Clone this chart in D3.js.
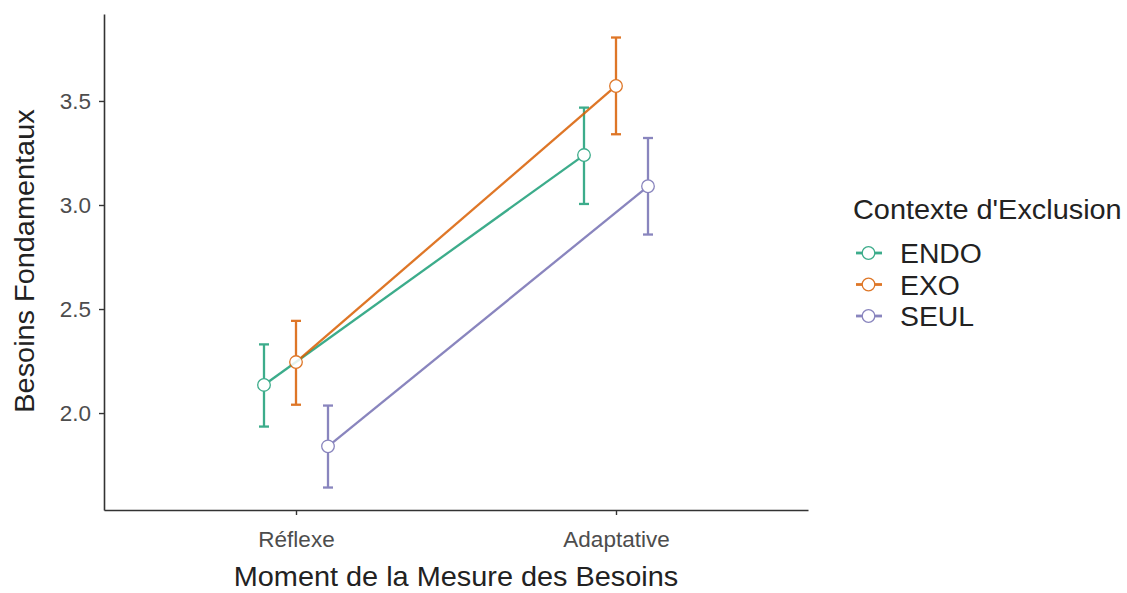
<!DOCTYPE html>
<html>
<head>
<meta charset="utf-8">
<script src="https://cdn.jsdelivr.net/npm/d3@7"></script>
<style>
  body { margin: 0; background: #fff; }
  text { font-family: "Liberation Sans", Arial, sans-serif; }
</style>
</head>
<body>
<div id="plot"></div>
<script>
// moments (x categories) and groups
var moments = ["Réflexe", "Adaptative"];
var groups = ["ENDO", "EXO", "SEUL"];
var colors = ["#1B9E77", "#D95F02", "#7570B3"];

// means per group, in the order of moments
var meanENDO = [2.135, 3.24],
    meanEXO  = [2.245, 3.572],
    meanSEUL = [1.84, 3.09];
// error bar limits
var lowENDO = [1.935, 3.005], highENDO = [2.33, 3.468],
    lowEXO  = [2.04, 3.34],   highEXO  = [2.443, 3.805],
    lowSEUL = [1.642, 2.858], highSEUL = [2.036, 3.322];

var yTicks = [2.0, 2.5, 3.0, 3.5];

var means = [meanENDO, meanEXO, meanSEUL],
    lows = [lowENDO, lowEXO, lowSEUL],
    highs = [highENDO, highEXO, highSEUL];

var width = 1127, height = 593;
var margin = {top: 14, right: 319, bottom: 83, left: 104};
// the reference text is a little wider than its height suggests
var stretch = 1.05;

var svg = d3.select("#plot").append("svg")
    .attr("width", width)
    .attr("height", height);

// discrete x axis with ggplot-like expansion (0.6 each side)
var x = d3.scaleLinear()
    .domain([0.4, moments.length + 0.6])
    .range([margin.left, width - margin.right]);
var dodge = d3.scaleOrdinal().domain(groups).range([-0.1, 0, 0.1]);

var y = d3.scaleLinear()
    .domain([1.534, 3.918])
    .range([height - margin.bottom, margin.top]);

var axisCol = "#333333";

// axes
var gx = svg.append("g")
    .attr("transform", "translate(0," + (height - margin.bottom) + ")")
    .call(d3.axisBottom(x).tickValues([1, 2]).tickFormat(function(d) { return moments[d - 1]; })
          .tickSize(5).tickSizeOuter(0));
var gy = svg.append("g")
    .attr("transform", "translate(" + margin.left + ",0)")
    .call(d3.axisLeft(y).tickValues(yTicks).tickFormat(d3.format(".1f"))
          .tickSize(5).tickSizeOuter(0).tickPadding(8));

[gx, gy].forEach(function(g) {
  g.select(".domain").attr("stroke", axisCol).attr("stroke-width", 1.6);
  g.selectAll(".tick line").attr("stroke", axisCol).attr("stroke-width", 1.4);
  g.selectAll(".tick text").attr("fill", "#4d4d4d").style("font-size", "22.5px");
});
gx.selectAll(".tick text").attr("y", 21);

// stretched text helper
function label(parent, tx, ty, rot, size, anchor, str) {
  return parent.append("text")
      .attr("transform", "translate(" + tx + "," + ty + ") rotate(" + rot + ") scale(" + stretch + ",1)")
      .attr("text-anchor", anchor)
      .attr("fill", "#222")
      .style("font-size", size + "px")
      .text(str);
}

// axis titles
label(svg, x(1.5), 586, 0, 27.5, "middle", "Moment de la Mesure des Besoins");
label(svg, 34, 261, -90, 27.5, "middle", "Besoins Fondamentaux");

var plot = svg.append("g");
var lineW = 2.3, op = 0.85;

groups.forEach(function(gname, gi) {
  var col = colors[gi];
  var pts = moments.map(function(m, mi) {
    return {x: mi + 1 + dodge(gname), m: means[gi][mi], lo: lows[gi][mi], hi: highs[gi][mi]};
  });
  var g = plot.append("g").attr("opacity", op);
  g.append("path")
      .datum(pts)
      .attr("fill", "none")
      .attr("stroke", col)
      .attr("stroke-width", lineW)
      .attr("d", d3.line().x(function(d) { return x(d.x); }).y(function(d) { return y(d.m); }));
  pts.forEach(function(d) {
    var cx = x(d.x);
    g.append("line").attr("x1", cx).attr("x2", cx).attr("y1", y(d.lo)).attr("y2", y(d.hi))
        .attr("stroke", col).attr("stroke-width", lineW);
    [d.lo, d.hi].forEach(function(v) {
      g.append("line").attr("x1", cx - 5).attr("x2", cx + 5).attr("y1", y(v)).attr("y2", y(v))
          .attr("stroke", col).attr("stroke-width", lineW);
    });
  });
  g.selectAll("circle").data(pts).enter().append("circle")
      .attr("cx", function(d) { return x(d.x); })
      .attr("cy", function(d) { return y(d.m); })
      .attr("r", 6.3)
      .attr("fill", "#fff")
      .attr("stroke", col)
      .attr("stroke-width", 1.3);
});

// legend
var leg = svg.append("g").attr("transform", "translate(853,0)");
label(leg, 0, 219, 0, 27.5, "start", "Contexte d'Exclusion");
groups.forEach(function(gname, gi) {
  var cy = 253 + gi * 31.5;
  var item = leg.append("g");
  var k = item.append("g").attr("opacity", op);
  k.append("line").attr("x1", 3).attr("x2", 29).attr("y1", cy).attr("y2", cy)
      .attr("stroke", colors[gi]).attr("stroke-width", 2.8);
  k.append("circle").attr("cx", 15.5).attr("cy", cy).attr("r", 6.3)
      .attr("fill", "#fff").attr("stroke", colors[gi]).attr("stroke-width", 1.3);
  label(item, 47, cy + 10, 0, 27, "start", gname);
});
</script>
</body>
</html>
